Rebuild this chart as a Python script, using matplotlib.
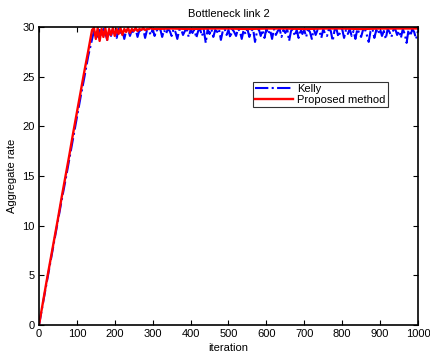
"""Bottleneck link 2: aggregate rate vs iteration (Kelly vs proposed method)."""

import matplotlib
matplotlib.use("Agg")
import matplotlib.pyplot as plt
import numpy as np

plt.rcParams["font.family"] = ["Liberation Sans", "DejaVu Sans"]

# ---------------------------------------------------------------------------
# Data
# ---------------------------------------------------------------------------
RAMP_ITER = np.arange(0, 150, 10)
KELLY_RAMP = [0.0, 2.1, 4.2, 6.3, 8.4, 10.5, 12.6, 14.6, 16.7, 18.8,
              20.9, 23.0, 25.0, 27.1, 28.8]
PROP_RAMP = [0.0, 2.2, 4.4, 6.5, 8.6, 10.7, 12.9, 15.0, 17.1, 19.3,
             21.4, 23.5, 25.6, 27.6, 29.7]

KELLY_TAIL_ITER = np.arange(145, 1001, 5)
KELLY_TAIL = [
    29.6,
    29.3, 28.8, 29.7, 29.0, 29.8, 29.4, 28.7, 29.6, 29.1, 29.8,
    29.5, 28.9, 29.8, 29.2, 29.7, 28.8, 29.6, 29.8, 29.1, 29.7,
    29.4, 29.8, 29.0, 29.7, 29.5, 29.8, 28.9, 29.7, 29.6, 29.2,
    29.8, 29.1, 29.7, 29.5, 29.8, 29.0, 29.7, 29.3, 29.8, 29.6,
    29.1, 29.8, 29.5, 28.8, 29.7, 29.8, 29.2, 29.6, 29.8, 29.0,
    29.7, 29.4, 29.8, 28.9, 29.6, 29.8, 29.1, 29.7, 28.4, 29.8,
    29.3, 29.8, 29.0, 29.7, 29.5, 29.8, 28.7, 29.6, 29.8, 29.2,
    29.7, 28.9, 29.8, 29.5, 29.1, 29.8, 29.6, 28.8, 29.7, 29.3,
    29.8, 29.0, 29.6, 29.8, 28.5, 29.5, 29.8, 29.1, 29.7, 28.9,
    29.8, 29.3, 29.7, 28.8, 29.8, 29.2, 29.6, 29.8, 29.0, 29.7,
    29.4, 29.8, 28.6, 29.6, 29.8, 29.1, 29.7, 28.9, 29.8, 29.3,
    29.7, 29.0, 29.8, 29.5, 28.8, 29.8, 29.2, 29.7, 29.6, 28.9,
    29.8, 29.3, 29.1, 29.8, 29.6, 28.6, 29.7, 29.8, 29.0, 29.5,
    29.8, 28.9, 29.7, 29.3, 29.8, 29.1, 29.6, 28.8, 29.8, 29.4,
    29.0, 29.7, 29.8, 29.2, 28.5, 29.6, 29.8, 28.9, 29.7, 29.3,
    29.8, 29.1, 29.6, 28.8, 29.8, 29.5, 29.0, 29.7, 29.8, 29.2,
    29.6, 28.9, 29.8, 29.3, 28.4, 29.7, 29.1, 29.8, 29.5, 28.8,
    29.6,
]

PROP_TAIL_ITER = np.concatenate([np.arange(145, 301, 5), np.arange(350, 1001, 50)])
PROP_TAIL = [
    29.9, 28.8, 29.9, 28.6, 29.8, 29.0, 29.9, 28.7, 29.8, 29.2,
    29.9, 29.1, 29.8, 29.3, 29.9, 29.2, 29.8, 29.5, 29.9, 29.4,
    29.8, 29.6, 29.9, 29.6, 29.8, 29.7, 29.9, 29.7, 29.8, 29.8,
    29.9, 29.8,
    29.85, 29.8, 29.85, 29.85, 29.8, 29.85, 29.85, 29.8, 29.85, 29.85,
    29.8, 29.85, 29.85, 29.85,
]

kelly_iter = np.concatenate([RAMP_ITER, KELLY_TAIL_ITER])
kelly_rate = np.concatenate([KELLY_RAMP, KELLY_TAIL])
prop_iter = np.concatenate([RAMP_ITER, PROP_TAIL_ITER])
prop_rate = np.concatenate([PROP_RAMP, PROP_TAIL])

# ---------------------------------------------------------------------------
# Figure
# ---------------------------------------------------------------------------
fig = plt.figure(figsize=(4.30, 3.53), dpi=100)
ax = fig.add_axes([0.0907, 0.0793, 0.8813, 0.8442])

ax.plot(kelly_iter, kelly_rate, color="#0000ff", linestyle="-.", linewidth=1.5,
        label="Kelly")
ax.plot(prop_iter, prop_rate, color="#ff0000", linestyle="-", linewidth=1.7,
        label="Proposed method")

ax.set_xlim(0, 1000)
ax.set_ylim(0, 30)
ax.set_xticks(np.arange(0, 1001, 100))
ax.set_yticks(np.arange(0, 31, 5))
ax.tick_params(direction="in", length=3.5, width=0.8, labelsize=8,
               top=True, right=True, pad=3)
for spine in ax.spines.values():
    spine.set_linewidth(1.2)

ax.set_title("Bottleneck link 2", fontsize=8, pad=7)
ax.set_xlabel("iteration", fontsize=8, labelpad=3)
ax.set_ylabel("Aggregate rate", fontsize=8, labelpad=4)

leg = ax.legend(loc="upper left", bbox_to_anchor=(0.565, 0.815), fontsize=8,
                frameon=True, fancybox=False, borderpad=0.2, labelspacing=0.05,
                handlelength=3.4, handletextpad=0.35, borderaxespad=0)
leg.get_frame().set_edgecolor("black")
leg.get_frame().set_linewidth(0.8)

fig.savefig("out.png", dpi=100)
